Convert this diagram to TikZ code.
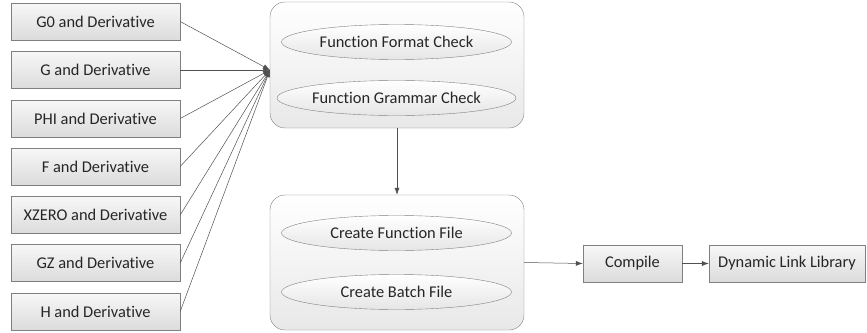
\documentclass[tikz,border=0pt]{standalone}
\usepackage{fontspec}
\setmainfont{Carlito}[Ligatures=NoCommon]
\usetikzlibrary{shapes.geometric,arrows.meta}

\definecolor{linegray}{RGB}{80,80,80}
\definecolor{edgegray}{RGB}{128,128,128}
\definecolor{txtgray}{RGB}{38,38,38}

\tikzset{
  inbox/.style={draw=edgegray, top color=gray!6, bottom color=gray!28,
    minimum width=169pt, minimum height=37pt, inner sep=0pt,
    text=txtgray, font=\fontsize{16.4}{19}\selectfont},
  bigbox/.style={draw=edgegray, rounded corners=15pt, top color=white,
    bottom color=gray!18, inner sep=0pt},
  oval/.style={ellipse, draw=edgegray, top color=white, bottom color=gray!20,
    minimum width=230pt, minimum height=35pt, inner sep=0pt,
    text=txtgray, font=\fontsize{16.4}{19}\selectfont},
  link/.style={draw=linegray, line width=0.5pt, -{Latex[length=7pt,width=5pt]}}
}

\begin{document}
\begin{tikzpicture}[x=1pt,y=-1pt]
\useasboundingbox (0,0) rectangle (867,332);

% input boxes
\node[inbox] (gzero) at (95.5,21.5) {G0 and Derivative};
\node[inbox] (g) at (95.5,70) {G and Derivative};
\node[inbox] (phi) at (95.5,118.5) {PHI and Derivative};
\node[inbox] (f) at (95.5,166.5) {F and Derivative};
\node[inbox] (xzero) at (95.5,215) {XZERO and Derivative};
\node[inbox] (gz) at (95.5,263) {GZ and Derivative};
\node[inbox] (h) at (95.5,311.5) {H and Derivative};

% check block
\node[bigbox, minimum width=254pt, minimum height=126pt] (check) at (397,65) {};
\node[oval] (format) at (396.5,42) {Function Format Check};
\node[oval] (grammar) at (396.5,98) {Function Grammar Check};
\coordinate (conv) at (270,70);

% create block
\node[bigbox, minimum width=254pt, minimum height=135pt] (create) at (397,262.5) {};
\node[oval] (funcfile) at (396.5,233) {Create Function File};
\node[oval] (batchfile) at (396.5,292) {Create Batch File};

% output
\node[inbox, minimum width=99pt] (compile) at (632.5,263.5) {Compile};
\node[inbox, minimum width=156pt] (dll) at (787,263.5) {Dynamic Link Library};

\draw[link] (gzero.east) -- (conv);
\draw[link] (g.east) -- (conv);
\draw[link] (phi.east) -- (conv);
\draw[link] (f.east) -- (conv);
\draw[link] (xzero.east) -- (conv);
\draw[link] (gz.east) -- (conv);
\draw[link] (h.east) -- (conv);

\draw[link] (check.south) -- (create.north);
\draw[link] (create.east) -- (compile.west);
\draw[link] (compile.east) -- (dll.west);
\end{tikzpicture}
\end{document}
